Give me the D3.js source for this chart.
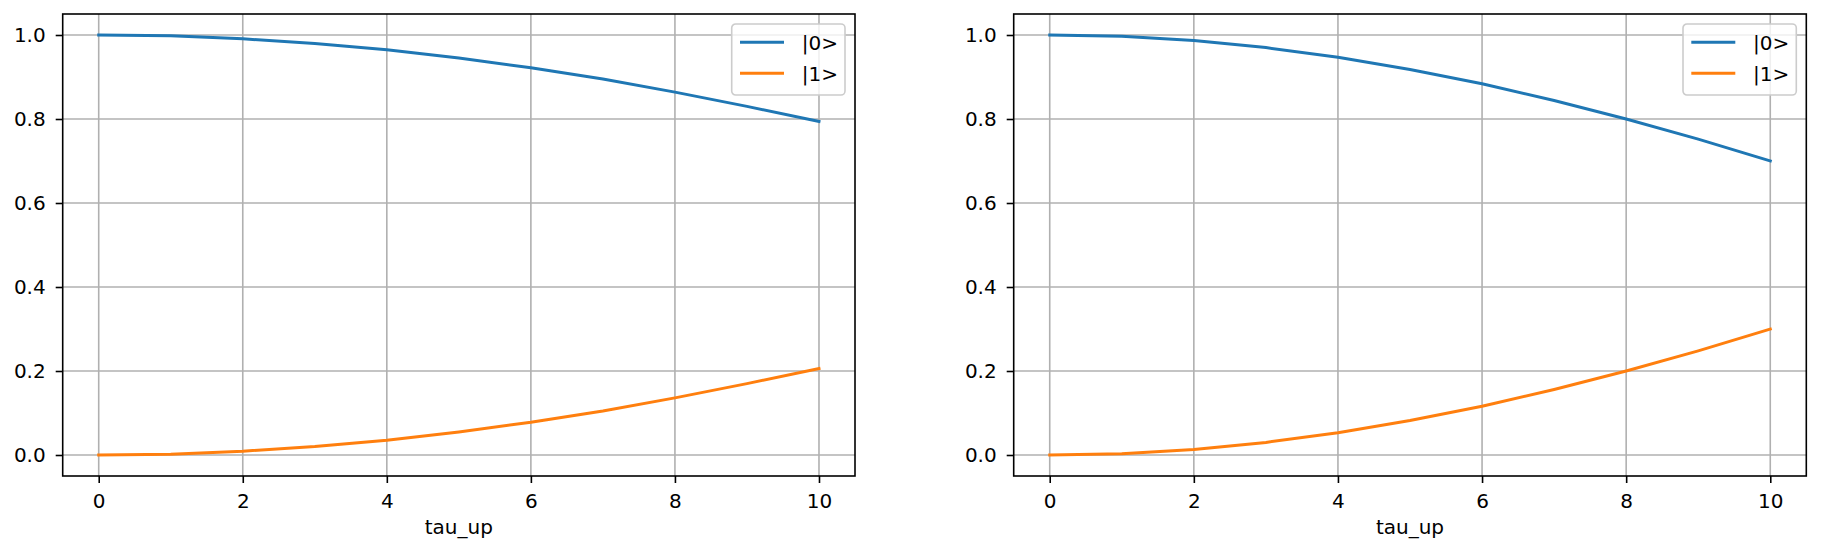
<!DOCTYPE html>
<html>
<head>
<meta charset="utf-8">
<script src="https://cdn.jsdelivr.net/npm/d3@7"></script>
<style>
  body { margin: 0; background: #fff; }
  svg { display: block; font-family: "DejaVu Sans", sans-serif; }
</style>
</head>
<body>
<svg id="fig" width="1821" height="554"></svg>
<script>
// data
var tau = [0, 1, 2, 3, 4, 5, 6, 7, 8, 9, 10];
var seriesNames = ['|0>', '|1>'];
var leftP0 = [1.000, 0.998, 0.991, 0.980, 0.965, 0.945, 0.922, 0.895, 0.864, 0.830, 0.794];
var leftP1 = [0.000, 0.002, 0.009, 0.020, 0.035, 0.055, 0.078, 0.105, 0.136, 0.170, 0.206];
var rightP0 = [1.000, 0.997, 0.987, 0.970, 0.947, 0.918, 0.884, 0.844, 0.800, 0.752, 0.700];
var rightP1 = [0.000, 0.003, 0.013, 0.030, 0.053, 0.082, 0.116, 0.156, 0.200, 0.248, 0.300];
var xTicks = [0, 2, 4, 6, 8, 10];
var yTicks = [0, 0.2, 0.4, 0.6, 0.8, 1.0];
var colors = ['#1f77b4', '#ff7f0e'];

var svg = d3.select('#fig');

function panel(x0, x1, series) {
    var top = 14, bottom = 476;
    var x = d3.scaleLinear().domain([-0.5, 10.5]).range([x0, x1]);
    var y = d3.scaleLinear().domain([-0.05, 1.05]).range([bottom, top]);
    var g = svg.append('g');

    // grid
    g.append('g').selectAll('line').data(xTicks).enter().append('line')
        .attr('x1', function (d) { return x(d); }).attr('x2', function (d) { return x(d); })
        .attr('y1', top).attr('y2', bottom)
        .attr('stroke', '#b0b0b0').attr('stroke-width', 1.6);
    g.append('g').selectAll('line').data(yTicks).enter().append('line')
        .attr('y1', function (d) { return y(d); }).attr('y2', function (d) { return y(d); })
        .attr('x1', x0).attr('x2', x1)
        .attr('stroke', '#b0b0b0').attr('stroke-width', 1.6);

    // axes
    var xa = g.append('g').attr('transform', 'translate(0,' + bottom + ')')
        .call(d3.axisBottom(x).tickValues(xTicks).tickSize(7).tickPadding(11).tickSizeOuter(0));
    var ya = g.append('g').attr('transform', 'translate(' + x0 + ',0)')
        .call(d3.axisLeft(y).tickValues(yTicks).tickFormat(d3.format('.1f')).tickSize(7).tickPadding(10).tickSizeOuter(0));
    [xa, ya].forEach(function (a) {
        a.select('.domain').remove();
        a.selectAll('line').attr('stroke', '#000').attr('stroke-width', 1.6);
        a.selectAll('text').attr('font-size', 20).attr('fill', '#000')
            .attr('font-family', '"DejaVu Sans", sans-serif');
    });

    // lines
    var line = d3.line()
        .x(function (d, i) { return x(tau[i]); })
        .y(function (d) { return y(d); });
    series.forEach(function (s, i) {
        g.append('path').datum(s)
            .attr('fill', 'none').attr('stroke', colors[i])
            .attr('stroke-width', 3).attr('stroke-linejoin', 'round').attr('stroke-linecap', 'square')
            .attr('d', line);
    });

    // frame
    g.append('rect').attr('x', x0).attr('y', top)
        .attr('width', x1 - x0).attr('height', bottom - top)
        .attr('fill', 'none').attr('stroke', '#000').attr('stroke-width', 1.6);

    g.append('text').attr('x', (x0 + x1) / 2).attr('y', 534)
        .attr('text-anchor', 'middle').attr('font-size', 20).text('tau_up');

    // legend
    var lx = x1 - 123.3, ly = top + 10;
    var leg = g.append('g').attr('transform', 'translate(' + lx + ',' + ly + ')');
    leg.append('rect').attr('width', 113.3).attr('height', 71).attr('rx', 4)
        .attr('fill', '#fff').attr('fill-opacity', 0.8)
        .attr('stroke', '#cccccc').attr('stroke-width', 1.6);
    seriesNames.forEach(function (n, i) {
        var yy = 18.3 + i * 31;
        leg.append('line').attr('x1', 8.3).attr('x2', 52.3).attr('y1', yy).attr('y2', yy)
            .attr('stroke', colors[i]).attr('stroke-width', 3);
        leg.append('text').attr('x', 70).attr('y', yy).attr('dy', '0.36em')
            .attr('font-size', 20).text(n);
    });
}

panel(62.7, 855, [leftP0, leftP1]);
panel(1013.7, 1806.3, [rightP0, rightP1]);
</script>
</body>
</html>
